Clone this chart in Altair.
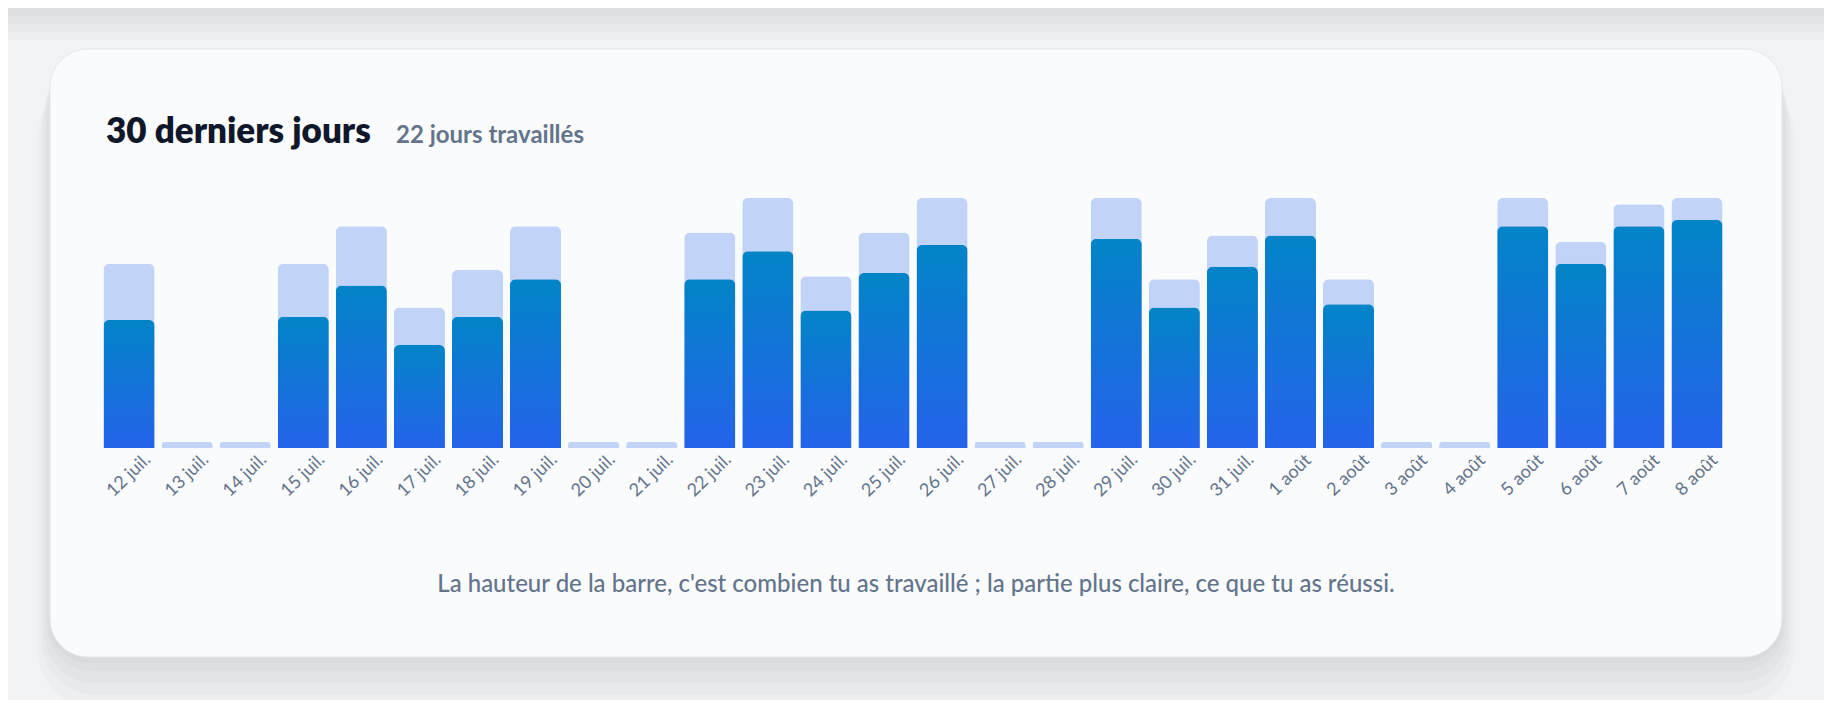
import altair as alt
import pandas as pd

# données (heures par jour)
jours = [
    "12 juil.", "13 juil.", "14 juil.", "15 juil.", "16 juil.", "17 juil.", "18 juil.",
    "19 juil.", "20 juil.", "21 juil.", "22 juil.", "23 juil.", "24 juil.", "25 juil.",
    "26 juil.", "27 juil.", "28 juil.", "29 juil.", "30 juil.", "31 juil.", "1 août",
    "2 août", "3 août", "4 août", "5 août", "6 août", "7 août", "8 août",
]
heures_travail = [5.9, 0, 0, 5.9, 7.1, 4.5, 5.7, 7.1, 0, 0, 6.9, 8.0, 5.5, 6.9,
                  8.0, 0, 0, 8.0, 5.4, 6.8, 8.0, 5.4, 0, 0, 8.0, 6.6, 7.8, 8.0]
heures_base = [4.1, 0, 0, 4.2, 5.2, 3.3, 4.2, 5.4, 0, 0, 5.4, 6.3, 4.4, 5.6,
               6.5, 0, 0, 6.7, 4.5, 5.8, 6.8, 4.6, 0, 0, 7.1, 5.9, 7.1, 7.3]

titre = "30 derniers jours"
sous_titre = "22 jours travaillés"
note = "La hauteur de la barre, c'est combien tu as travaillé ; la partie plus claire, ce que tu as réussi."

POLICE = "Lato"
GRIS = "#64748b"

df = pd.DataFrame({"jour": jours, "travail": heures_travail, "base": heures_base})
un = pd.DataFrame({"k": [0]})

x = alt.X("jour:N", sort=jours,
          scale=alt.Scale(paddingInner=0.12, paddingOuter=0.06),
          axis=alt.Axis(title=None, ticks=False, tickSize=0, domain=False, grid=False,
                        labelAngle=-44, labelAlign="center", labelBaseline="middle",
                        labelPadding=27, labelFont=POLICE, labelFontSize=18,
                        labelColor=GRIS, zindex=2))
y_scale = alt.Scale(domain=[0, 8])

# carte + ombres (décor)
ombres = []
for d, s in [(4, 2), (8, 6), (14, 12), (20, 18), (28, 26)]:
    ombres.append(alt.Chart(un).mark_rect(cornerRadius=38 + s, color="#000", opacity=0.018).encode(
        x=alt.value(-50 - s // 2), x2=alt.value(1682 + s // 2),
        y=alt.value(-149 + d), y2=alt.value(459 + d + s)))
haut = []
for b in [-190, -182, -174, -166, -158]:
    haut.append(alt.Chart(un).mark_rect(color="#000", opacity=0.02).encode(
        x=alt.value(-120), x2=alt.value(1760), y=alt.value(-260), y2=alt.value(b)))

carte = alt.Chart(un).mark_rect(cornerRadius=38, fill="#f9fbfd", stroke="#e5e8ec",
                                strokeWidth=1).encode(
    x=alt.value(-50), x2=alt.value(1682), y=alt.value(-149), y2=alt.value(459))

clair = alt.Chart(df).transform_calculate(
    h="max(datum.travail, 0.19)"
).mark_bar(color="#c1d3f7", cornerRadiusTopLeft=6, cornerRadiusTopRight=6).encode(
    x=x, y=alt.Y("h:Q", scale=y_scale, axis=None))

degrade = alt.Gradient(
    gradient="linear",
    stops=[alt.GradientStop(color="#0284c7", offset=0),
           alt.GradientStop(color="#2563eb", offset=1)],
    x1=0, x2=0, y1=0, y2=1)

fonce = alt.Chart(df).transform_filter("datum.base > 0").mark_bar(
    color=degrade, cornerRadiusTopLeft=6, cornerRadiusTopRight=6).encode(
    x=x, y=alt.Y("base:Q", scale=y_scale, axis=None))

t1 = alt.Chart(un).mark_text(align="left", baseline="alphabetic", font=POLICE,
                             fontSize=35, fontWeight=800, color="#0f172a").encode(
    x=alt.value(6), y=alt.value(-55), text=alt.value(titre))
t2 = alt.Chart(un).mark_text(align="left", baseline="alphabetic", font=POLICE,
                             fontSize=24, fontWeight=700, color=GRIS).encode(
    x=alt.value(296), y=alt.value(-55), text=alt.value(sous_titre))
t3 = alt.Chart(un).mark_text(align="center", baseline="alphabetic", font=POLICE,
                             fontSize=24, fontWeight=500, color=GRIS).encode(
    x=alt.value(816), y=alt.value(394), text=alt.value(note))

chart = alt.layer(*haut, *ombres, carte, clair, fonce, t1, t2, t3).properties(
    width=1626, height=250,
    padding={"left": 92, "top": 190, "right": 98, "bottom": 252},
    autosize=alt.AutoSizeParams(type="none"),
    background="#f2f3f4",
).configure_view(strokeOpacity=0)

chart.save("out.html", embed_options={"renderer": "svg", "actions": False})
